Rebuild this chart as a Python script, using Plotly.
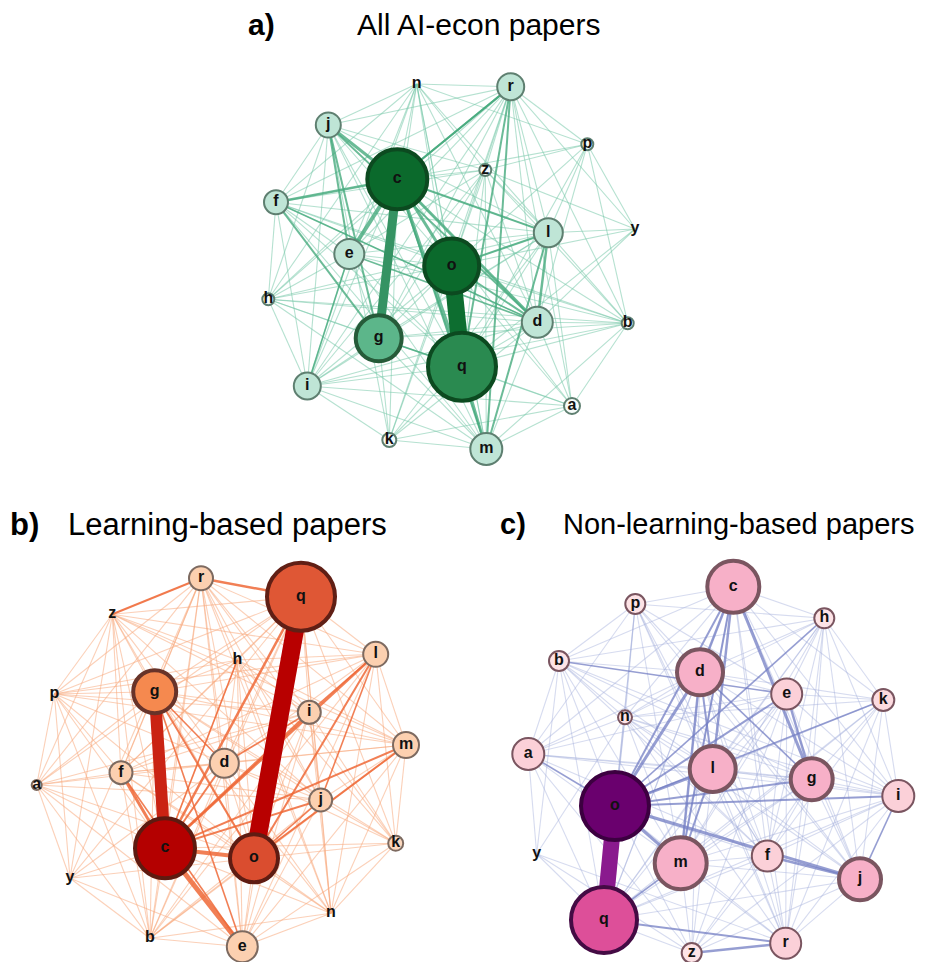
import plotly.graph_objects as go

# ---------------- data ----------------
node_names = ["a","b","c","d","e","f","g","h","i","j","k","l","m","n","o","p","q","r","y","z"]

# Panel a: All AI-econ papers  (layout coordinates, node strength, colour intensity)
a_x = {"n":166.7,"r":260.7,"j":78.3,"p":337.3,"c":147.3,"z":235.3,"f":26,"y":385,"l":298.3,"e":99.3,
       "o":201.7,"h":18.3,"d":287.3,"b":377.7,"g":128.7,"q":212,"i":57.3,"a":322,"k":139.3,"m":236.3}
a_y = {"n":24,"r":26.7,"j":65,"p":84.3,"c":119.3,"z":110,"f":142.3,"y":169,"l":172.7,"e":194,
       "o":206,"h":239.3,"d":262.3,"b":263.3,"g":278.3,"q":306.7,"i":326,"a":346,"k":380,"m":389}
a_strength = {"n":0,"r":27,"j":25,"p":12,"c":60,"z":12,"f":24,"y":0,"l":29,"e":30,
              "o":55,"h":12,"d":31,"b":12,"g":46,"q":68,"i":27,"a":16,"k":14,"m":32}
a_intensity = {"n":0,"r":0.3,"j":0.3,"p":0,"c":1,"z":0,"f":0.3,"y":0,"l":0.3,"e":0.3,
               "o":1,"h":0,"d":0.3,"b":0,"g":0.55,"q":0.8,"i":0.3,"a":0,"k":0,"m":0.3}
a_strong = [("c","g",9),("o","q",17),("c","e",4),("c","o",3),("c","q",3.5),("c","j",3),("c","f",2.5),
            ("c","d",3),("c","l",2),("c","r",2),("r","q",2),("r","m",2),("j","g",2),("o","d",2),
            ("o","l",2),("l","d",2.5),("l","m",2),("q","m",2.5),("f","g",2),("j","e",2),("c","m",2),
            ("j","d",1.8),("f","d",1.6),("e","d",1.6),("g","q",1.6),("i","e",1.6),("r","c",2)]
a_thin = {"a":"bcdgiklmoqr","b":"cdefghilmopqrz","c":"dfhiklmnprz","d":"fghikmnpqryz",
          "e":"fghilmnoqrz","f":"hijlmnoqrz","g":"hiklmnorz","h":"ijlmnoqr","i":"jklmnoqrz",
          "j":"klmnoqrz","k":"lmoqr","l":"nopqryz","m":"noz","n":"opqrz","o":"pryz",
          "p":"qryz","q":"yz","r":"yz","y":"z"}

# Panel b: Learning-based papers
b_x = {"r":201,"q":301,"z":112.3,"h":237.3,"l":375.7,"p":54.3,"g":154.7,"i":309.3,"m":406,"d":224.3,
       "f":121,"a":36.7,"j":320.7,"c":165,"o":254,"k":395.7,"y":70,"n":331,"b":150,"e":242.3}
b_y = {"r":28.3,"q":46.7,"z":64.3,"h":110,"l":104.3,"p":144,"g":141.7,"i":162.3,"m":195,"d":213.3,
       "f":222.7,"a":235,"j":250,"c":298.3,"o":308.3,"k":293.3,"y":328.3,"n":363.3,"b":388.3,"e":396.7}
b_strength = {"r":24,"q":68,"z":0,"h":0,"l":25,"p":0,"g":43,"i":23,"m":26,"d":29,
              "f":23,"a":10,"j":23,"c":60,"o":48,"k":15,"y":0,"n":0,"b":0,"e":31}
b_intensity = {"r":0.2,"q":0.75,"z":0,"h":0,"l":0.2,"p":0,"g":0.55,"i":0.2,"m":0.2,"d":0.2,
               "f":0.2,"a":0.05,"j":0.2,"c":1,"o":0.78,"k":0.15,"y":0,"n":0,"b":0,"e":0.2}
b_strong = [("q","o",18),("g","c",12),("c","e",5),("c","o",4),("r","q",2.5),("r","z",2),("c","l",2.5),
            ("c","i",2.5),("c","m",2),("c","j",2),("c","q",2.5),("c","d",2),("c","h",1.6),("f","c",3),
            ("g","o",2),("o","l",2),("o","m",2),("o","j",1.6),("g","e",1.6),("i","l",1.6),("l","j",1.6),
            ("g","d",1.6),("d","i",1.6),("f","e",1.6)]
b_thin = {"a":"cdefgijopqrybz","b":"cdefgijlmnopqryz","c":"hknpryz","d":"efhjklmnopqryz",
          "e":"hijklmnoqry","f":"ghijlmnopqrz","g":"hijklmnpqrz","h":"ijklmnopqrz",
          "i":"jkmnopqrz","j":"kmnqrz","k":"lmnoqr","l":"mnpqrz","m":"nopqrz","n":"oqr",
          "o":"pryz","p":"qryz","q":"yz","r":"yz","y":"z"}

# Panel c: Non-learning-based papers
c_x = {"c":243.3,"p":145.3,"h":334.3,"b":69,"d":210,"e":296.7,"k":393.3,"n":135,"a":38.3,"l":222.7,
       "g":321.7,"i":408.3,"o":125,"y":46.7,"f":277.3,"m":190.7,"j":370,"q":114,"r":295.7,"z":201.7}
c_y = {"c":36.7,"p":54,"h":68.3,"b":111,"d":122.3,"e":144,"k":150,"n":167.3,"a":204,"l":219,
       "g":229.3,"i":246,"o":256,"y":304,"f":306,"m":313.3,"j":329.3,"q":370,"r":393.3,"z":403}
c_strength = {"c":52,"p":20,"h":20,"b":20,"d":46,"e":31,"k":22,"n":14,"a":32,"l":46,
              "g":42,"i":32,"o":68,"y":0,"f":31,"m":52,"j":42,"q":66,"r":31,"z":20}
c_intensity = {"c":0.3,"p":0,"h":0,"b":0,"d":0.3,"e":0.1,"k":0.05,"n":0,"a":0.1,"l":0.3,
               "g":0.3,"i":0.1,"o":1,"y":0,"f":0.1,"m":0.3,"j":0.3,"q":0.7,"r":0.1,"z":0}
c_strong = [("o","q",16),("o","j",3),("f","j",2.5),("c","g",3),("c","d",2.5),("c","l",2.5),("c","m",2),
            ("d","m",2.5),("d","o",3),("d","l",2),("o","l",2.5),("o","e",2),("o","m",3),("o","g",2),
            ("o","i",2),("q","r",2),("z","r",2.5),("o","k",1.6),("e","g",2.5),("b","e",1.6),
            ("q","m",1.6),("c","o",2),("d","g",1.6),("h","o",1.6),("j","i",1.6),("l","m",2),("a","o",1.6)]
c_thin = {"a":"bcdefgilmnpqyz","b":"cdfghilmnopqy","c":"efhijkmnpqr","d":"efhijkmnpqrz",
          "e":"fhijklmnpqrz","f":"ghiklmnopqrz","g":"hijklmnqrz","h":"ijklmnpqr","i":"klmnqrz",
          "j":"klmnpqrz","k":"lmnqr","l":"fnpqrz","m":"nprz","n":"opqry","o":"prz",
          "p":"qr","q":"yz","r":"y","y":"z"}

panels = [
    dict(x=a_x, y=a_y, s=a_strength, t=a_intensity, strong=a_strong, thin=a_thin,
         box=(250, 60, 420, 420),
         scale=[[0, "#f6fbf9"], [0.3, "#bfe5d6"], [0.55, "#5cb68a"], [0.8, "#2a8a50"], [1, "#0b6a2c"]],
         border_light="#5e7f70", border_dark="#0c4a20",
         e_thin="rgba(120,200,170,0.55)", e_mid="#52ad87", e_mid_a="rgba(70,170,125,0.8)", e_thick="#0d6e30"),
    dict(x=b_x, y=b_y, s=b_strength, t=b_intensity, strong=b_strong, thin=b_thin,
         box=(0, 550, 440, 412),
         scale=[[0, "#fdf0e8"], [0.2, "#fcd0b0"], [0.55, "#f5894f"], [0.75, "#df5735"], [1, "#b40000"]],
         border_light="#7d6a60", border_dark="#5e1a10",
         e_thin="rgba(248,170,125,0.55)", e_mid="#ee6a3a", e_mid_a="rgba(238,105,55,0.85)", e_thick="#b80000"),
    dict(x=c_x, y=c_y, s=c_strength, t=c_intensity, strong=c_strong, thin=c_thin,
         box=(490, 550, 440, 412),
         scale=[[0, "#fde3e6"], [0.1, "#fbd0d8"], [0.3, "#f7b0c8"], [0.7, "#dd4f99"], [1, "#6a006e"]],
         border_light="#7a5560", border_dark="#3c0040",
         e_thin="rgba(165,175,220,0.45)", e_mid="#7d86c4", e_mid_a="rgba(115,125,195,0.75)", e_thick="#8a1a8e"),
]

# (label, title, label-left, title-left, centre-y, font size)
titles = [("a)", "All AI-econ papers", 248, 357, 25, 30),
          ("b)", "Learning-based papers", 10, 68, 524, 31),
          ("c)", "Non-learning-based papers", 500, 563, 524, 29)]

# ---------------- figure ----------------
W, H = 930, 962
PAGE = 8      # default page margin of the html body, compensated below
fig = go.Figure()


def hex_to_rgb(h):
    h = h.lstrip("#")
    return tuple(int(h[i:i + 2], 16) for i in (0, 2, 4))


def mix(c1, c2, t):
    a, b = hex_to_rgb(c1), hex_to_rgb(c2)
    return "rgb(%d,%d,%d)" % tuple(round(a[i] + (b[i] - a[i]) * t) for i in range(3))


FONT = "Liberation Sans, Arial, sans-serif"

for k, p in enumerate(panels):
    ax = "" if k == 0 else str(k + 1)
    x0, y0, pw, ph = p["box"]
    fig.update_layout(**{
        "xaxis" + ax: dict(domain=[x0 / W, (x0 + pw) / W], range=[PAGE, pw + PAGE], visible=False, fixedrange=True),
        "yaxis" + ax: dict(domain=[1 - (y0 + ph) / H, 1 - y0 / H], range=[ph + PAGE, PAGE], visible=False, fixedrange=True),
    })
    xr, yr = "x" + ax, "y" + ax

    # thin edges
    ex, ey = [], []
    for u, vs in p["thin"].items():
        for v in vs:
            if u == v:
                continue
            ex += [p["x"][u], p["x"][v], None]
            ey += [p["y"][u], p["y"][v], None]
    fig.add_trace(go.Scatter(x=ex, y=ey, mode="lines", line=dict(color=p["e_thin"], width=1.1),
                             hoverinfo="skip", xaxis=xr, yaxis=yr, showlegend=False))
    # strong edges, thinner first
    for u, v, w in sorted(p["strong"], key=lambda e: e[2]):
        col = p["e_mid_a"] if w < 6 else mix(p["e_mid"], p["e_thick"], min(1, (w - 4) / 12))
        fig.add_trace(go.Scatter(x=[p["x"][u], p["x"][v]], y=[p["y"][u], p["y"][v]], mode="lines",
                                 line=dict(color=col, width=w), hoverinfo="skip",
                                 xaxis=xr, yaxis=yr, showlegend=False))
    # nodes
    names = [n for n in node_names if n in p["x"]]
    circ = [n for n in names if p["s"][n] > 0]
    bcols, bw = [], []
    for n in circ:
        t = p["t"][n]
        bcols.append(mix(p["border_light"], p["border_dark"], min(1, t / 0.8)) if t > 0.3 else p["border_light"])
        bw.append(4 if p["s"][n] >= 40 else 2)
    fig.add_trace(go.Scatter(
        x=[p["x"][n] for n in circ], y=[p["y"][n] for n in circ], mode="markers",
        marker=dict(size=[p["s"][n] for n in circ], color=[p["t"][n] for n in circ],
                    colorscale=p["scale"], cmin=0, cmax=1,
                    line=dict(color=bcols, width=bw), opacity=1),
        hoverinfo="skip", xaxis=xr, yaxis=yr, showlegend=False, cliponaxis=False))
    fig.add_trace(go.Scatter(
        x=[p["x"][n] for n in names], y=[p["y"][n] for n in names], mode="text",
        text=["<b>%s</b>" % n for n in names],
        textfont=dict(family=FONT, size=16, color="#111111"),
        hoverinfo="skip", xaxis=xr, yaxis=yr, showlegend=False, cliponaxis=False))

for lab, txt, lx, tx, ty, fs in titles:
    for s, xx in (("<b>%s</b>" % lab, lx), (txt, tx)):
        fig.add_annotation(x=(xx - PAGE - 2) / W, y=1 - (ty - PAGE) / H, xref="paper", yref="paper", text=s,
                           xanchor="left", yanchor="middle", showarrow=False,
                           font=dict(family=FONT, size=fs, color="#000"))

fig.update_layout(width=W, height=H, margin=dict(l=0, r=0, t=0, b=0),
                  paper_bgcolor="white", plot_bgcolor="white")
fig.write_html("out.html")
